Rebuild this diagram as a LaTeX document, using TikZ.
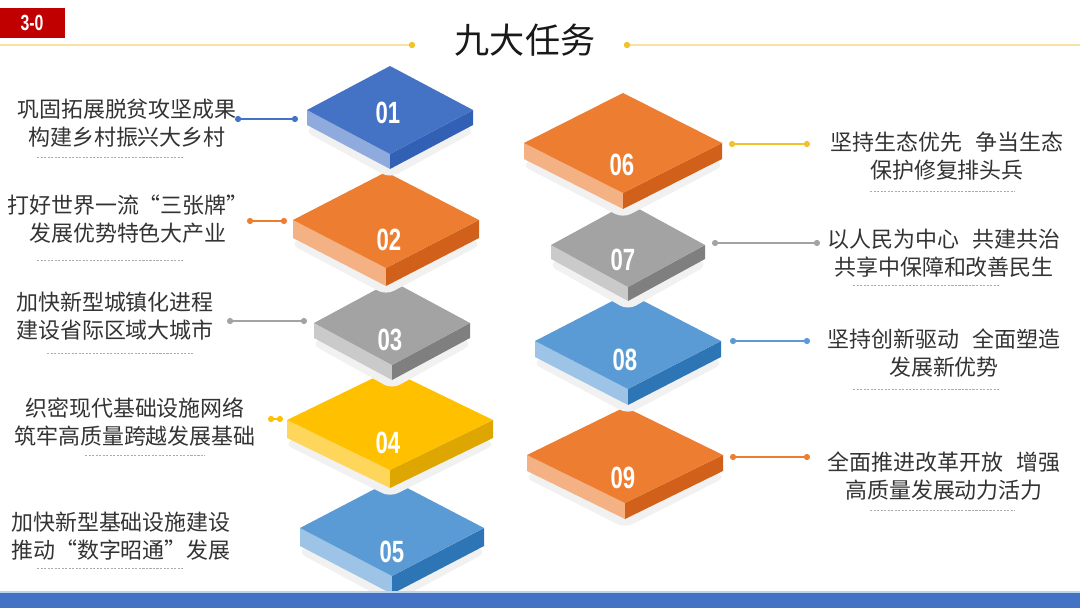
\documentclass[tikz,border=0pt]{standalone}
\usepackage{fontspec}
\usepackage{graphicx}
\setmainfont{Noto Sans CJK SC}
\newfontfamily\numfont{Liberation Sans}
\usetikzlibrary{arrows.meta}
\definecolor{blueA}{HTML}{4472C4}
\definecolor{blueAl}{HTML}{8FAADC}
\definecolor{blueAd}{HTML}{3160B4}
\definecolor{blueB}{HTML}{5B9BD5}
\definecolor{blueBl}{HTML}{9DC3E6}
\definecolor{blueBd}{HTML}{2E75B6}
\definecolor{orng}{HTML}{ED7D31}
\definecolor{orngl}{HTML}{F4B183}
\definecolor{orngd}{HTML}{D0601A}
\definecolor{gry}{HTML}{A3A3A3}
\definecolor{gryl}{HTML}{CACACA}
\definecolor{gryd}{HTML}{7F7F7F}
\definecolor{yel}{HTML}{FFC000}
\definecolor{yell}{HTML}{FFD65C}
\definecolor{yeld}{HTML}{DEA600}
\definecolor{gold}{HTML}{F2C12E}
\definecolor{goldl}{HTML}{F8E2A0}
\definecolor{badge}{HTML}{C00000}
% tile: cx, cy, half width, half height, thickness, top, left, right
\newcommand{\tile}[8]{%
  \fill[gray!11, rounded corners=5pt] (#1-#3-3,#2+#5+6) -- (#1,#2-#4+#5+6) -- (#1+#3+3,#2+#5+6) -- (#1,#2+#4+#5+9) -- cycle;
  \fill[#7] (#1-#3,#2) -- (#1,#2+#4) -- (#1,#2+#4+#5) -- (#1-#3,#2+#5) -- cycle;
  \fill[#8] (#1+#3,#2) -- (#1,#2+#4) -- (#1,#2+#4+#5) -- (#1+#3,#2+#5) -- cycle;
  \fill[#6] (#1-#3,#2) -- (#1,#2-#4) -- (#1+#3,#2) -- (#1,#2+#4) -- cycle;
}
\newcommand{\nm}[1]{\scalebox{0.72}[1]{#1}}

\begin{document}
\begin{tikzpicture}[x=0.02cm, y=-0.02cm, >={Circle[length=3.5pt]},
    task/.style={align=center, text=black!80, font=\fontsize{12.5}{15.6}\selectfont},
    num/.style={text=white, font=\numfont\bfseries\fontsize{17.5}{17.5}\selectfont},
    link/.style={<->, draw=#1, line width=0.6pt},
    uline/.style={gray!65, line width=0.4pt, dash pattern=on 1.2pt off 0.8pt}]
  \useasboundingbox (0,0) rectangle (1080,608);

  \fill[badge] (0,8) rectangle (65,38);
  \node[num, font=\numfont\bfseries\fontsize{12.5}{12.5}\selectfont] (B) at (32,23) {\nm{3-0}};

  \node[font=\fontsize{20}{20}\selectfont, text=black!90] (title) at (525,40) {九大任务};
  \coordinate (gl) at (412,45);
  \coordinate (gr) at (627,45);
  \draw[goldl, line width=0.8pt] (0,45) -- (gl);
  \draw[goldl, line width=0.8pt] (gr) -- (1080,45);
  \fill[gold] (gl) circle (3.2);
  \fill[gold] (gr) circle (3.2);

  \tile{392}{528}{92}{48}{18}{blueB}{blueBl}{blueBd}
  \tile{390}{420}{103}{50}{18}{yel}{yell}{yeld}
  \tile{392}{323}{78}{42}{15}{gry}{gryl}{gryd}
  \tile{386}{220}{93}{48}{18}{orng}{orngl}{orngd}
  \tile{390}{110}{83}{44}{15}{blueA}{blueAl}{blueAd}
  \tile{625}{455}{98}{48}{16}{orng}{orngl}{orngd}
  \tile{628}{341}{93}{48}{16}{blueB}{blueBl}{blueBd}
  \tile{628}{245}{77}{42}{14}{gry}{gryl}{gryd}
  \tile{623}{143}{99}{50}{16}{orng}{orngl}{orngd}

  \node[num] (N1) at (388,113) {\nm{01}};
  \node[num] (N2) at (389,240) {\nm{02}};
  \node[num] (N3) at (390,340) {\nm{03}};
  \node[num] (N4) at (388,443) {\nm{04}};
  \node[num] (N5) at (392,552) {\nm{05}};
  \node[num] (N6) at (622,165) {\nm{06}};
  \node[num] (N7) at (623,260) {\nm{07}};
  \node[num] (N8) at (625,360) {\nm{08}};
  \node[num] (N9) at (623,478) {\nm{09}};

  \node[task] (L1) at (127,123) {巩固拓展脱贫攻坚成果\\构建乡村振兴大乡村};
  \node[task] (L2) at (128,219) {打好世界一流“三张牌”\\发展优势特色大产业};
  \node[task] (L3) at (115,316) {加快新型城镇化进程\\建设省际区域大城市};
  \node[task] (L4) at (135,422) {织密现代基础设施网络\\筑牢高质量跨越发展基础};
  \node[task] (L5) at (121,536) {加快新型基础设施建设\\推动“数字昭通”发展};
  \node[task] (R6) at (947,156) {坚持生态优先\hspace{0.6em}争当生态\\保护修复排头兵};
  \node[task] (R7) at (944,253) {以人民为中心\hspace{0.6em}共建共治\\共享中保障和改善民生};
  \node[task] (R8) at (944,353) {坚持创新驱动\hspace{0.6em}全面塑造\\发展新优势};
  \node[task] (R9) at (944,476) {全面推进改革开放\hspace{0.6em}增强\\高质量发展动力活力};

  \coordinate (a1) at (235,119);  \coordinate (b1) at (298,119);
  \coordinate (a2) at (247,221);  \coordinate (b2) at (287,221);
  \coordinate (a3) at (227,321);  \coordinate (b3) at (307,321);
  \coordinate (a4) at (268,419);  \coordinate (b4) at (283,419);
  \coordinate (a6) at (810,144);  \coordinate (b6) at (729,144);
  \coordinate (a7) at (820,243);  \coordinate (b7) at (712,243);
  \coordinate (a8) at (810,341);  \coordinate (b8) at (730,341);
  \coordinate (a9) at (810,457);  \coordinate (b9) at (730,457);
  \draw[link=blueA] (a1) -- (b1);
  \draw[link=orng] (a2) -- (b2);
  \draw[link=gry] (a3) -- (b3);
  \draw[link=yel] (a4) -- (b4);
  \draw[link=gold] (a6) -- (b6);
  \draw[link=gry] (a7) -- (b7);
  \draw[link=blueB] (a8) -- (b8);
  \draw[link=orng] (a9) -- (b9);

  \draw[uline] (37,157) -- (183,157);
  \draw[uline] (37,260) -- (183,260);
  \draw[uline] (47,353) -- (193,353);
  \draw[uline] (85,455) -- (205,455);
  \draw[uline] (37,568) -- (183,568);
  \draw[uline] (870,191) -- (1015,191);
  \draw[uline] (853,285) -- (1000,285);
  \draw[uline] (853,389) -- (1000,389);
  \draw[uline] (870,510) -- (1015,510);

  \fill[blueBl!70] (0,591) rectangle (1080,593);
  \fill[blueA] (0,593) rectangle (1080,608);
\end{tikzpicture}
\end{document}
